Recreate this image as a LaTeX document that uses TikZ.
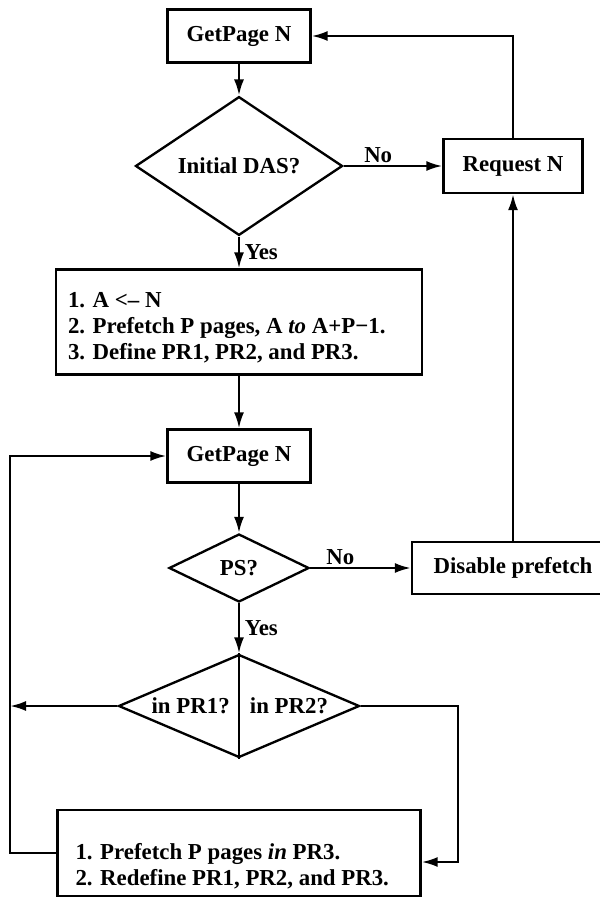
\documentclass[tikz,border=0pt]{standalone}
\usepackage{fontspec}
\setmainfont{Liberation Serif}
\usetikzlibrary{positioning,shapes.geometric,arrows,arrows.meta}

\begin{document}
\begin{tikzpicture}[node distance=4cm,on grid,auto,>={Latex[length=0.48cm,width=0.3cm]},line width=2pt,
    font=\fontsize{19.5}{22}\selectfont\bfseries]
        \tikzstyle{box}=[draw,rectangle,inner sep=0pt]
        \tikzstyle{test}=[draw,diamond,inner sep=0pt]
        \tikzstyle{txt}=[inner sep=0pt,align=left,anchor=west]
        \useasboundingbox (0,0) rectangle (17.97,-26.94);
        \node[box,minimum width=4.29cm,minimum height=1.59cm] (Get1) at (7.17,-1.08) {GetPage N};
        \node[test,minimum width=6.21cm,minimum height=3.12cm] (Das) [below=3.9cm of Get1] {Initial DAS?};
        \node[box,minimum width=4.17cm,minimum height=1.62cm] (Req) [right=8.22cm of Das] {Request N};
        \node[box,minimum width=10.98cm,minimum height=3.15cm] (Init) [below=4.68cm of Das] {};
        \node[txt] (InitTxt) at ([xshift=0.36cm,yshift=-0.18cm]Init.west)
            {1. A <-- N\\2. Prefetch P pages, A \textit{to} A+P−1.\\3. Define PR1, PR2, and PR3.};
        \node[box,minimum width=4.29cm,minimum height=1.59cm] (Get2) [below=4.02cm of Init] {GetPage N};
        \node[test,minimum width=4.2cm,minimum height=2.04cm] (Ps) [below=3.36cm of Get2] {PS?};
        \node[box,minimum width=6.06cm,minimum height=1.56cm] (Dis) [right=8.22cm of Ps] {Disable prefetch};
        \node[test,minimum width=7.23cm,minimum height=3.09cm] (Pr) [below=4.14cm of Ps] {};
        \node (Pr1) [left=1.45cm of Pr] {in PR1?};
        \node (Pr2) [right=1.5cm of Pr] {in PR2?};
        \node[box,minimum width=10.89cm,minimum height=2.58cm] (Upd) [below=4.41cm of Pr] {};
        \node[txt] (UpdTxt) at ([xshift=0.54cm,yshift=-0.39cm]Upd.west)
            {1. Prefetch P pages \textit{in} PR3.\\2. Redefine PR1, PR2, and PR3.};
        \coordinate (Lc) at (0.3,0);
        \coordinate (Rc) at (13.74,-25.86);
        \draw (Pr.north) -- (Pr.south);
        \path[->]
        (Get1) edge (Das)
        (Das) edge node[pos=0.35,inner sep=2pt] {No} (Req)
        (Das) edge node[inner sep=4pt] {Yes} (Init)
        (Init) edge (Get2)
        (Get2) edge (Ps)
        (Ps) edge node[pos=0.3,inner sep=2pt] {No} (Dis)
        (Dis) edge (Req)
        (Ps) edge node[inner sep=4pt] {Yes} (Pr);
        \draw[->] (Req.north) |- (Get1.east);
        \draw[->] (Pr.west) -- (Pr.west -| Lc);
        \draw[->] (Upd.west) -- (Upd.west -| Lc) |- (Get2.west);
        \draw[->] (Pr.east) -| (Rc) -- (Rc -| Upd.east);
    \end{tikzpicture}
\end{document}
